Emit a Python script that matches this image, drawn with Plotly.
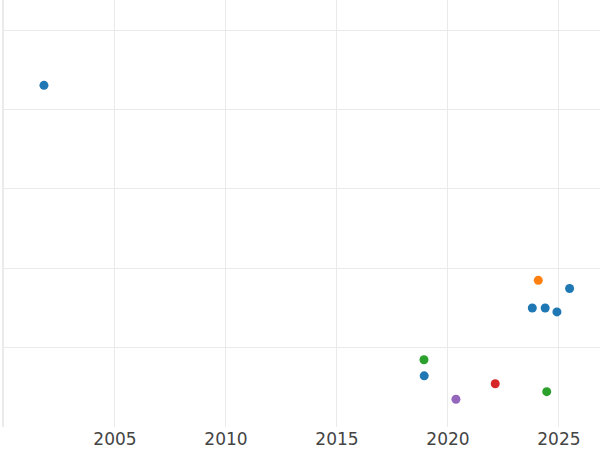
import plotly.graph_objects as go

# Data (x = year, y = value)
blue_x = [2001.80, 2025.48, 2023.80, 2024.38, 2024.91, 2018.93]
blue_y = [86.1, 34.9, 30.0, 30.0, 29.0, 12.9]
orange_x = [2024.07]
orange_y = [36.95]
green_x = [2018.92, 2024.45]
green_y = [16.95, 8.9]
red_x = [2022.13]
red_y = [10.9]
purple_x = [2020.36]
purple_y = [7.0]

series = [
    ("A", blue_x, blue_y, "#1f77b4"),
    ("B", orange_x, orange_y, "#ff7f0e"),
    ("C", green_x, green_y, "#2ca02c"),
    ("D", red_x, red_y, "#d62728"),
    ("E", purple_x, purple_y, "#9467bd"),
]
x_tickvals = [2005, 2010, 2015, 2020, 2025]

fig = go.Figure()
for name, xs, ys, col in series:
    fig.add_trace(go.Scatter(x=xs, y=ys, mode="markers", name=name,
                             marker=dict(color=col, size=9)))

fig.update_layout(
    template="none",
    width=600, height=450,
    showlegend=False,
    margin=dict(l=4, r=0, t=0, b=23),
    plot_bgcolor="white", paper_bgcolor="white",
    font=dict(family="DejaVu Sans", size=17, color="#444"),
    xaxis=dict(range=[2000, 2026.85], tickvals=x_tickvals, showgrid=True,
               gridcolor="#eaeaea", zeroline=False, showline=False, ticks=""),
    yaxis=dict(range=[0, 107.6], dtick=20, showticklabels=False, showgrid=True,
               gridcolor="#eaeaea", zeroline=False, showline=True,
               linecolor="#eaeaea", linewidth=2, ticks=""),
)
fig.write_html("out.html", config={"displayModeBar": False},
               post_script="document.body.style.margin='0';document.body.style.overflow='hidden';")
